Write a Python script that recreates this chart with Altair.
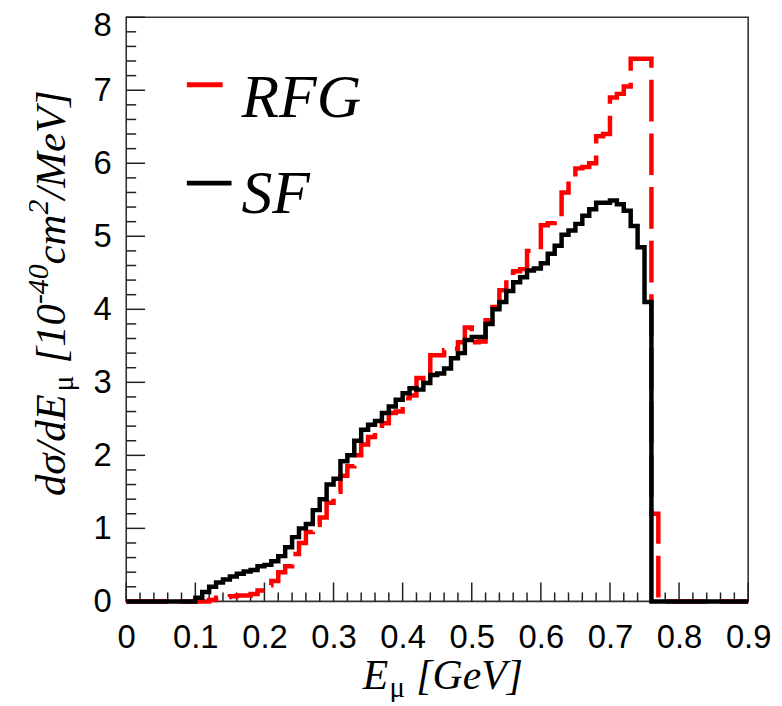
import altair as alt
import pandas as pd

# ---------------- data ----------------
BIN_WIDTH = 0.01
BIN_LOW = [round(BIN_WIDTH * i, 2) for i in range(90)]  # 0.00 ... 0.89

SF = [0.0] * 10 + [
    0.05, 0.13, 0.20, 0.26, 0.30, 0.34, 0.38, 0.41, 0.43, 0.48,   # 0.10-0.19
    0.50, 0.55, 0.62, 0.74, 0.88, 1.00, 1.06, 1.25, 1.40, 1.60,   # 0.20-0.29
    1.68, 1.92, 2.00, 2.20, 2.35, 2.42, 2.47, 2.58, 2.67, 2.76,   # 0.30-0.39
    2.85, 2.92, 2.90, 2.99, 3.10, 3.12, 3.19, 3.33, 3.40, 3.58,   # 0.40-0.49
    3.62, 3.62, 3.80, 4.00, 4.10, 4.25, 4.37, 4.44, 4.53, 4.56,   # 0.50-0.59
    4.63, 4.76, 4.87, 5.02, 5.08, 5.17, 5.28, 5.37, 5.46, 5.46,   # 0.60-0.69
    5.49, 5.44, 5.35, 5.14, 4.85, 4.10,                           # 0.70-0.75
] + [0.0] * 14

RFG = [0.0] * 12 + [
    0.02, 0.05, 0.06, 0.07, 0.08, 0.08, 0.10, 0.15,               # 0.12-0.19
    0.22, 0.28, 0.40, 0.48, 0.65, 0.80, 0.95, 1.05, 1.15, 1.35,   # 0.20-0.29
    1.50, 1.72, 1.85, 2.00, 2.15, 2.25, 2.35, 2.44, 2.58, 2.60,   # 0.30-0.39
    2.78, 2.82, 3.06, 3.00, 3.37, 3.37, 3.44, 3.46, 3.55, 3.75,   # 0.40-0.49
    3.55, 3.56, 3.85, 4.03, 4.26, 4.50, 4.52, 4.55, 4.80, 4.82,   # 0.50-0.59
    5.15, 5.18, 5.22, 5.60, 5.72, 5.93, 5.95, 6.00, 6.37, 6.40,   # 0.60-0.69
    6.90, 6.95, 7.05, 7.43, 7.43, 7.43, 1.20,                     # 0.70-0.76
] + [0.0] * 13

X_MAJOR = [round(0.1 * i, 1) for i in range(10)]
X_MINOR = [round(0.02 * i, 2) for i in range(46) if i % 5 != 0]
Y_MAJOR = list(range(9))
Y_MINOR = [round(0.2 * i, 1) for i in range(41) if i % 5 != 0]

X_DOMAIN = [0, 0.9]
Y_DOMAIN = [0, 8]

# ---------------- layout constants ----------------
W, H = 626, 588
TITLE_FONT = "Liberation Serif"
LABEL_FONT = "Liberation Sans Narrow, Liberation Sans, Arial"


def step_frame(values, name):
    xs = BIN_LOW + [X_DOMAIN[1]]
    ys = values + [values[-1]]
    return pd.DataFrame({"x": xs, "y": ys, "series": name})


xscale = alt.Scale(domain=X_DOMAIN, nice=False, zero=False)
yscale = alt.Scale(domain=Y_DOMAIN, nice=False, zero=False)

xaxis = alt.Axis(values=X_MAJOR, format=".1~f", title=None, ticks=False, domain=False,
                 grid=False, labelFont=LABEL_FONT, labelFontSize=33, labelColor="#000",
                 labelPadding=20, labelFlush=False, labelOverlap=False, labelBound=False)
yaxis = alt.Axis(values=Y_MAJOR, format="d", title=None, ticks=False, domain=False,
                 grid=False, labelFont=LABEL_FONT, labelFontSize=33, labelColor="#000",
                 labelPadding=15, labelFlush=False, labelOverlap=False, labelBound=False,
                 labelOffset={"condition": {"test": "datum.value == 8", "value": 8}, "value": 0})

rfg_line = alt.Chart(step_frame(RFG, "RFG")).mark_line(
    interpolate="step-after", color="#ff0000", strokeWidth=4.5,
    strokeDash=[42, 12], strokeCap="butt", strokeJoin="miter"
).encode(x=alt.X("x:Q", scale=xscale, axis=xaxis), y=alt.Y("y:Q", scale=yscale, axis=yaxis))

sf_line = alt.Chart(step_frame(SF, "SF")).mark_line(
    interpolate="step-after", color="#000000", strokeWidth=4.5,
    strokeCap="butt", strokeJoin="miter"
).encode(x=alt.X("x:Q", scale=xscale, axis=xaxis), y=alt.Y("y:Q", scale=yscale, axis=yaxis))


# inside ticks (ROOT style)
def xticks(vals, length):
    return alt.Chart(pd.DataFrame({"t": vals})).mark_rule(color="#222", strokeWidth=1.5).encode(
        x=alt.X("t:Q", scale=xscale, axis=xaxis), y=alt.value(H), y2=alt.value(H - length))


def yticks(vals, length):
    return alt.Chart(pd.DataFrame({"t": vals})).mark_rule(color="#222", strokeWidth=1.5).encode(
        y=alt.Y("t:Q", scale=yscale, axis=yaxis), x=alt.value(0), x2=alt.value(length))


one = alt.Data(values=[{}])


def txt(s, x, y, size, style="italic", angle=0, font=TITLE_FONT, align="left"):
    return alt.Chart(one).mark_text(
        text=s, font=font, fontSize=size, fontStyle=style, align=align,
        baseline="alphabetic", angle=angle, color="#000"
    ).encode(x=alt.value(x), y=alt.value(y))


def seg(x1, x2, y, color, width):
    return alt.Chart(one).mark_rule(color=color, strokeWidth=width, strokeCap="butt").encode(
        x=alt.value(x1), x2=alt.value(x2), y=alt.value(y))


# legend
legend = [
    seg(61, 97, 68, "#ff0000", 5),
    txt("RFG", 116, 100, 62),
    seg(61, 106, 167, "#000000", 5),
    txt("SF", 116, 197, 62),
]

# x title: E_mu [GeV]
XS = 42
xtitle = [
    txt("E", 238, 676, XS),
    txt("μ", 265, 684, 29, style="normal"),
    txt("[GeV]", 292, 676, XS),
]

# y title (rotated): dσ/dE_μ [10^-40 cm^2/MeV]
YS, YSUB = 43, 30
ybase = -62
pieces = [
    # text, size, style, shift (px, + = down for rotated text), advance before, width
    ("dσ/dE", YS, "italic", 0, 0, 2.45 * YS),
    ("μ", YSUB, "normal", 8, 0, 0.58 * YSUB),
    ("[10", YS, "italic", 0, 0.25 * YS, 1.39 * YS),
    ("-40", YSUB, "italic", -17, 0, 1.33 * YSUB),
    ("cm", YS, "italic", 0, 0, 1.17 * YS),
    ("2", YSUB, "italic", -17, 0, 0.5 * YSUB),
    ("/MeV]", YS, "italic", 0, 0, 2.56 * YS),
]
ytitle = []
ypos = 482
for s, size, style, shift, before, width in pieces:
    ypos -= before
    ytitle.append(txt(s, ybase + shift, ypos, size, style=style, angle=270))
    ypos -= width

chart = alt.layer(
    xticks(X_MAJOR, 19), xticks(X_MINOR, 9), yticks(Y_MAJOR, 19), yticks(Y_MINOR, 10),
    rfg_line, sf_line, *legend, *xtitle, *ytitle
).properties(
    width=W, height=H,
    autosize=alt.AutoSizeParams(type="none"),
    padding={"left": 119, "top": 7, "right": 26, "bottom": 99},
).configure_view(stroke="#333", strokeWidth=1.6)

chart.save("out.html", embed_options={"renderer": "svg", "actions": False})
